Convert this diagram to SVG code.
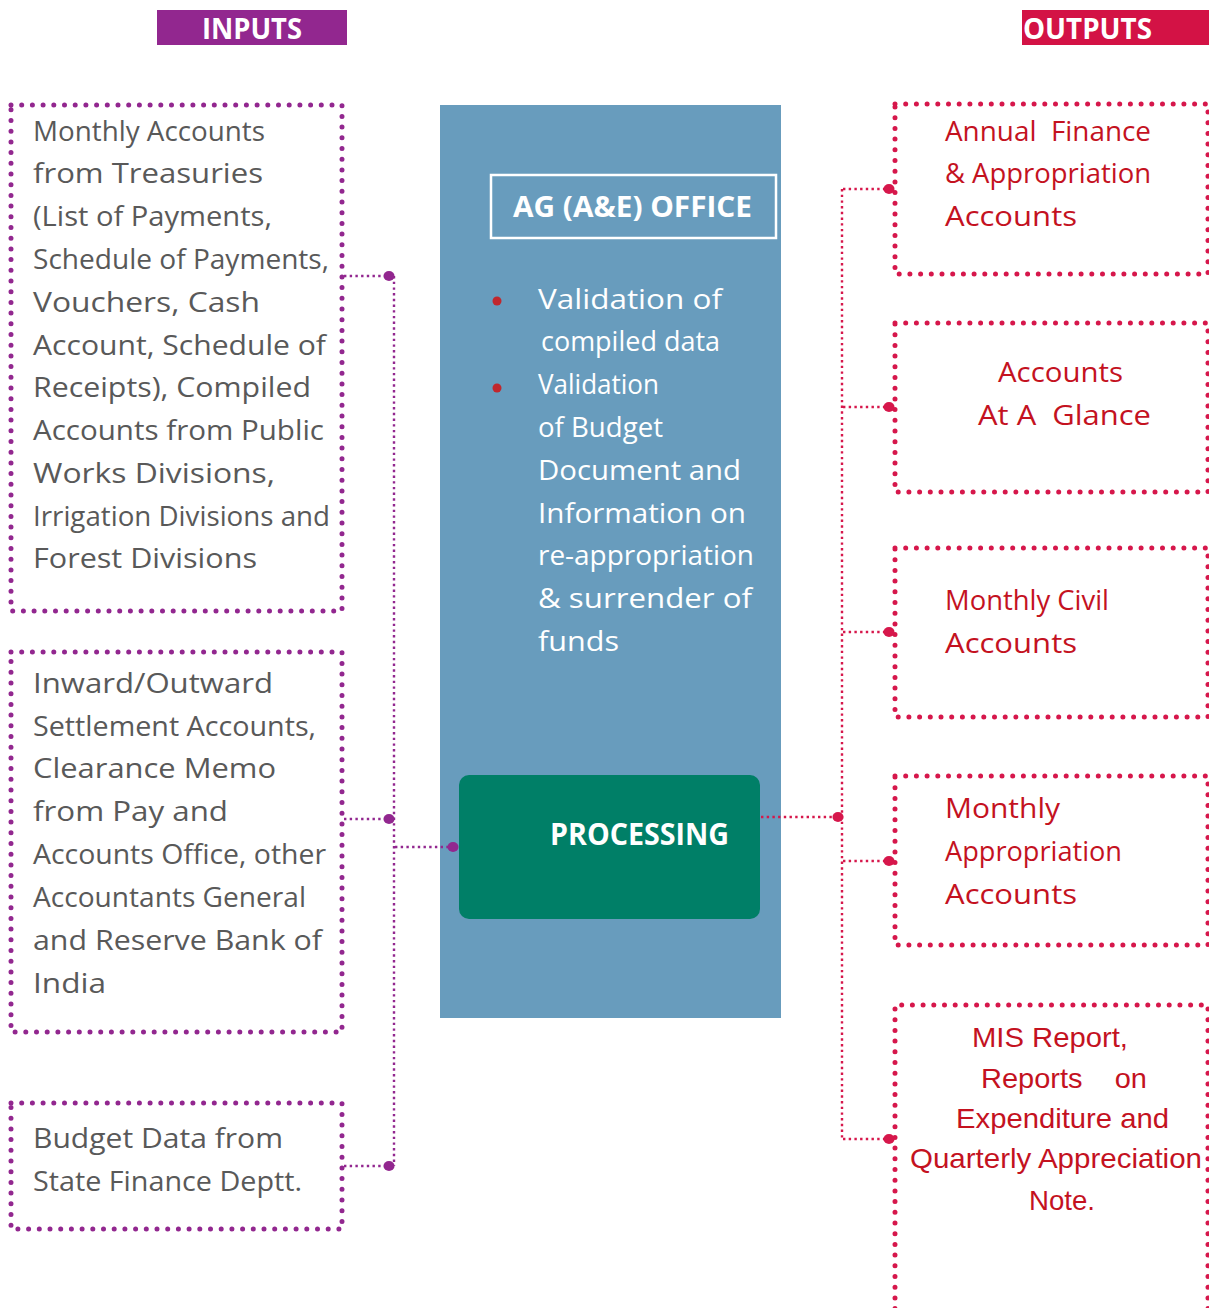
<svg xmlns="http://www.w3.org/2000/svg" width="1209" height="1308" viewBox="0 0 1209 1308">
  <style>
    .hdr { font-family: "Open Sans", "Liberation Sans", sans-serif; font-weight: 700; fill: #ffffff; }
    .in { font-family: "Open Sans", "Liberation Sans", sans-serif; font-size: 28px; fill: #595959; }
    .mid { font-family: "Open Sans", "Liberation Sans", sans-serif; font-size: 28px; fill: #ffffff; }
    .out { font-family: "Open Sans", "Liberation Sans", sans-serif; font-size: 28px; fill: #C4121F; }
    .out2 { font-family: "Liberation Sans", Arial, sans-serif; font-size: 28px; fill: #C4121F; }
    .boxIn { fill: none; stroke: #92278F; stroke-width: 5; stroke-linecap: round; stroke-dasharray: 0 10.7; }
    .boxOut { fill: none; stroke: #D6174B; stroke-width: 5; stroke-linecap: round; stroke-dasharray: 0 10.7; }
    .lnIn { fill: none; stroke: #92278F; stroke-width: 2.4; stroke-dasharray: 2.4 3.3; }
    .lnOut { fill: none; stroke: #D6174B; stroke-width: 2.4; stroke-dasharray: 2.4 3.3; }
    .dotIn { fill: #92278F; }
    .dotOut { fill: #D6174B; }
  </style>

  <!-- column headers -->
  <g id="inputs-header">
    <rect x="157" y="10" width="190" height="35" fill="#92278F"/>
    <text class="hdr" x="202" y="39" font-size="28" textLength="100" lengthAdjust="spacingAndGlyphs">INPUTS</text>
  </g>
  <g id="outputs-header">
    <rect x="1022" y="10" width="187" height="35" fill="#D31245"/>
    <text class="hdr" x="1023" y="39" font-size="28" textLength="129" lengthAdjust="spacingAndGlyphs">OUTPUTS</text>
  </g>

  <!-- input sources -->
  <g id="input-treasuries">
    <rect class="boxIn" x="11" y="105" width="331" height="506"/>
    <text class="in" x="33" y="141" textLength="232" lengthAdjust="spacingAndGlyphs">Monthly Accounts</text>
    <text class="in" x="33" y="183" textLength="230" lengthAdjust="spacingAndGlyphs">from Treasuries</text>
    <text class="in" x="33" y="226" textLength="239" lengthAdjust="spacingAndGlyphs">(List of Payments,</text>
    <text class="in" x="33" y="269" textLength="296" lengthAdjust="spacingAndGlyphs">Schedule of Payments,</text>
    <text class="in" x="33" y="312" textLength="227" lengthAdjust="spacingAndGlyphs">Vouchers, Cash</text>
    <text class="in" x="33" y="355" textLength="293" lengthAdjust="spacingAndGlyphs">Account, Schedule of</text>
    <text class="in" x="33" y="397" textLength="278" lengthAdjust="spacingAndGlyphs">Receipts), Compiled</text>
    <text class="in" x="33" y="440" textLength="291" lengthAdjust="spacingAndGlyphs">Accounts from Public</text>
    <text class="in" x="33" y="483" textLength="242" lengthAdjust="spacingAndGlyphs">Works Divisions,</text>
    <text class="in" x="33" y="526" textLength="297" lengthAdjust="spacingAndGlyphs">Irrigation Divisions and</text>
    <text class="in" x="33" y="568" textLength="224" lengthAdjust="spacingAndGlyphs">Forest Divisions</text>
  </g>

  <g id="input-settlement">
    <rect class="boxIn" x="11" y="652" width="331" height="380"/>
    <text class="in" x="33" y="693" textLength="240" lengthAdjust="spacingAndGlyphs">Inward/Outward</text>
    <text class="in" x="33" y="736" textLength="283" lengthAdjust="spacingAndGlyphs">Settlement Accounts,</text>
    <text class="in" x="33" y="778" textLength="243" lengthAdjust="spacingAndGlyphs">Clearance Memo</text>
    <text class="in" x="33" y="821" textLength="195" lengthAdjust="spacingAndGlyphs">from Pay and</text>
    <text class="in" x="33" y="864" textLength="293" lengthAdjust="spacingAndGlyphs">Accounts Office, other</text>
    <text class="in" x="33" y="907" textLength="273" lengthAdjust="spacingAndGlyphs">Accountants General</text>
    <text class="in" x="33" y="950" textLength="289" lengthAdjust="spacingAndGlyphs">and Reserve Bank of</text>
    <text class="in" x="33" y="993" textLength="73" lengthAdjust="spacingAndGlyphs">India</text>
  </g>

  <g id="input-budget">
    <rect class="boxIn" x="11" y="1103" width="331" height="126"/>
    <text class="in" x="33" y="1148" textLength="250" lengthAdjust="spacingAndGlyphs">Budget Data from</text>
    <text class="in" x="33" y="1191" textLength="269" lengthAdjust="spacingAndGlyphs">State Finance Deptt.</text>
  </g>

  <!-- central office panel -->
  <g id="ag-office">
    <rect x="440" y="105" width="341" height="913" fill="#689CBD"/>
    <rect x="491" y="175" width="285" height="63" fill="none" stroke="#ffffff" stroke-width="2.5"/>
    <text class="hdr" x="513" y="217" font-size="28" textLength="239" lengthAdjust="spacingAndGlyphs">AG (A&amp;E) OFFICE</text>
    <circle cx="497" cy="301" r="4.5" fill="#C1272D"/>
    <circle cx="497" cy="388" r="4.5" fill="#C1272D"/>
    <text class="mid" x="538" y="309" textLength="184" lengthAdjust="spacingAndGlyphs">Validation of</text>
    <text class="mid" x="541" y="351" font-size="26" textLength="179" lengthAdjust="spacingAndGlyphs">compiled data</text>
    <text class="mid" x="538" y="394" font-size="26" textLength="121" lengthAdjust="spacingAndGlyphs">Validation</text>
    <text class="mid" x="538" y="437" font-size="26" textLength="125" lengthAdjust="spacingAndGlyphs">of Budget</text>
    <text class="mid" x="538" y="480" textLength="203" lengthAdjust="spacingAndGlyphs">Document and</text>
    <text class="mid" x="538" y="523" textLength="208" lengthAdjust="spacingAndGlyphs">Information on</text>
    <text class="mid" x="538" y="565" textLength="216" lengthAdjust="spacingAndGlyphs">re-appropriation</text>
    <text class="mid" x="538" y="608" textLength="214" lengthAdjust="spacingAndGlyphs">&amp; surrender of</text>
    <text class="mid" x="538" y="651" textLength="81" lengthAdjust="spacingAndGlyphs">funds</text>
  </g>

  <g id="processing">
    <rect x="459" y="775" width="301" height="144" rx="10" fill="#007F67"/>
    <text class="hdr" x="550" y="845" font-size="30" textLength="179" lengthAdjust="spacingAndGlyphs">PROCESSING</text>
  </g>

  <!-- outputs -->
  <g id="output-annual">
    <rect class="boxOut" x="895" y="104" width="313" height="170"/>
    <text class="out" x="945" y="141" textLength="206" lengthAdjust="spacingAndGlyphs" xml:space="preserve">Annual  Finance</text>
    <text class="out" x="945" y="183" textLength="206" lengthAdjust="spacingAndGlyphs">&amp; Appropriation</text>
    <text class="out" x="945" y="226" textLength="132" lengthAdjust="spacingAndGlyphs">Accounts</text>
  </g>

  <g id="output-glance">
    <rect class="boxOut" x="895" y="323" width="313" height="169"/>
    <text class="out" x="998" y="382" textLength="125" lengthAdjust="spacingAndGlyphs">Accounts</text>
    <text class="out" x="978" y="425" textLength="173" lengthAdjust="spacingAndGlyphs" xml:space="preserve">At A  Glance</text>
  </g>

  <g id="output-civil">
    <rect class="boxOut" x="895" y="548" width="313" height="169"/>
    <text class="out" x="945" y="610" textLength="164" lengthAdjust="spacingAndGlyphs">Monthly Civil</text>
    <text class="out" x="945" y="653" textLength="132" lengthAdjust="spacingAndGlyphs">Accounts</text>
  </g>

  <g id="output-appropriation">
    <rect class="boxOut" x="895" y="776" width="313" height="169"/>
    <text class="out" x="945" y="818" textLength="115" lengthAdjust="spacingAndGlyphs">Monthly</text>
    <text class="out" x="945" y="861" textLength="177" lengthAdjust="spacingAndGlyphs">Appropriation</text>
    <text class="out" x="945" y="904" textLength="132" lengthAdjust="spacingAndGlyphs">Accounts</text>
  </g>

  <g id="output-mis">
    <path class="boxOut" d="M895 1330 V1005 H1208 V1330"/>
    <text class="out2" x="972" y="1047" textLength="156" lengthAdjust="spacingAndGlyphs">MIS Report,</text>
    <text class="out2" x="981" y="1088" textLength="166" lengthAdjust="spacingAndGlyphs" xml:space="preserve">Reports    on</text>
    <text class="out2" x="956" y="1128" textLength="213" lengthAdjust="spacingAndGlyphs">Expenditure and</text>
    <text class="out2" x="910" y="1168" textLength="292" lengthAdjust="spacingAndGlyphs">Quarterly Appreciation</text>
    <text class="out2" x="1029" y="1210" textLength="66" lengthAdjust="spacingAndGlyphs">Note.</text>
  </g>

  <!-- connectors -->
  <g id="connectors">
    <!-- inputs into processing -->
    <path class="lnIn" d="M394 276 V1166"/>
    <path class="lnIn" d="M344 276 H388"/>
    <path class="lnIn" d="M344 819 H388"/>
    <path class="lnIn" d="M344 1166 H388"/>
    <path class="lnIn" d="M395 847 H452"/>
    <ellipse class="dotIn" cx="389" cy="276" rx="5.5" ry="5"/>
    <ellipse class="dotIn" cx="389" cy="819" rx="5.5" ry="5"/>
    <ellipse class="dotIn" cx="389" cy="1166" rx="5.5" ry="5"/>
    <ellipse class="dotIn" cx="453" cy="847" rx="5.5" ry="5"/>

    <!-- processing out to reports -->
    <path class="lnOut" d="M761 817 H838"/>
    <path class="lnOut" d="M842 189 V1139"/>
    <path class="lnOut" d="M843 189 H889"/>
    <path class="lnOut" d="M843 407 H889"/>
    <path class="lnOut" d="M843 632 H889"/>
    <path class="lnOut" d="M843 861 H889"/>
    <path class="lnOut" d="M843 1139 H889"/>
    <ellipse class="dotOut" cx="838" cy="817" rx="5.5" ry="5"/>
    <ellipse class="dotOut" cx="889" cy="189" rx="5.5" ry="5"/>
    <ellipse class="dotOut" cx="889" cy="407" rx="5.5" ry="5"/>
    <ellipse class="dotOut" cx="889" cy="632" rx="5.5" ry="5"/>
    <ellipse class="dotOut" cx="889" cy="861" rx="5.5" ry="5"/>
    <ellipse class="dotOut" cx="889" cy="1139" rx="5.5" ry="5"/>
  </g>
</svg>
